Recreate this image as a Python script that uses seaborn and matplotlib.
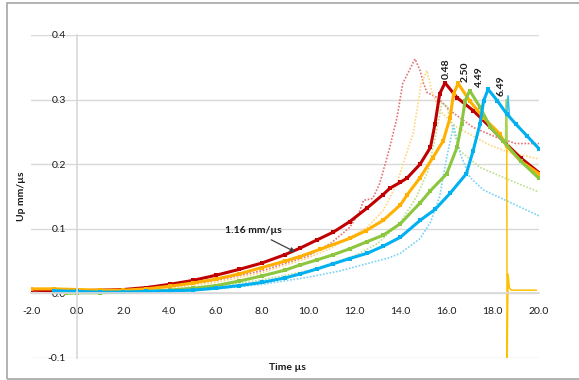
import numpy as np
import matplotlib
matplotlib.use('Agg')
import matplotlib.pyplot as plt
import seaborn as sns
from matplotlib.patches import Rectangle

# Particle velocity gauge traces (solid) and companion traces (dotted)
# labels are gauge depths in mm
red_t = [-2.0, -1.0, 0.0, 1.0, 2.0, 3.0, 4.0, 5.0, 6.0, 7.0, 8.0, 9.0, 9.65, 10.4, 11.1, 11.8,
         12.55, 13.25, 13.55, 14.0, 14.3, 14.85, 15.3, 15.5, 15.7, 15.93, 16.45, 17.15, 17.9,
         18.45, 19.2, 20.0]
red_v = [0.005, 0.004, 0.004, 0.005, 0.006, 0.009, 0.014, 0.02, 0.028, 0.037, 0.047, 0.06, 0.07,
         0.083, 0.095, 0.111, 0.132, 0.153, 0.163, 0.172, 0.179, 0.2, 0.226, 0.263, 0.309, 0.326,
         0.303, 0.283, 0.257, 0.236, 0.21, 0.187]

orange_t = [-2.0, -1.0, 0.0, 1.0, 2.0, 3.0, 4.0, 5.0, 6.0, 7.0, 8.0, 9.0, 9.65, 10.5, 11.8,
            12.5, 13.25, 14.0, 14.3, 14.85, 15.4, 15.85, 16.15, 16.3, 16.5, 17.0, 17.6, 18.3,
            18.6, 19.2, 20.0]
orange_v = [0.007, 0.007, 0.006, 0.005, 0.005, 0.007, 0.011, 0.016, 0.022, 0.03, 0.04, 0.05,
            0.057, 0.068, 0.085, 0.097, 0.113, 0.137, 0.153, 0.179, 0.21, 0.236, 0.272, 0.309,
            0.325, 0.298, 0.272, 0.247, 0.228, 0.205, 0.185]

green_t = [-0.5, 0.0, 1.0, 2.0, 3.0, 4.0, 4.3, 5.0, 6.0, 7.0, 8.0, 9.0, 9.65, 10.4, 11.1, 11.8,
           12.55, 13.25, 14.0, 14.85, 15.3, 16.0, 16.45, 16.65, 16.8, 17.0, 17.45, 17.9, 18.45,
           19.2, 20.0]
green_v = [0.0, 0.001, 0.001, 0.002, 0.003, 0.005, 0.006, 0.008, 0.012, 0.019, 0.027, 0.036,
           0.044, 0.052, 0.06, 0.069, 0.08, 0.09, 0.108, 0.14, 0.159, 0.185, 0.226, 0.263, 0.298,
           0.314, 0.288, 0.257, 0.236, 0.205, 0.178]

blue_t = [-1.0, 0.0, 1.0, 2.0, 3.0, 4.0, 5.0, 6.0, 7.0, 8.0, 9.0, 9.65, 10.4, 11.1, 11.8, 12.55,
          13.25, 14.0, 14.85, 15.5, 16.15, 16.85, 17.15, 17.45, 17.6, 17.8, 18.2, 18.6, 19.0,
          19.5, 20.0]
blue_v = [0.004, 0.003, 0.002, 0.002, 0.003, 0.004, 0.005, 0.008, 0.012, 0.017, 0.024, 0.03,
          0.038, 0.046, 0.054, 0.062, 0.073, 0.087, 0.113, 0.13, 0.155, 0.185, 0.221, 0.263, 0.298,
          0.316, 0.298, 0.278, 0.262, 0.243, 0.224]

red_dot_t = [-2.0, 0.0, 2.0, 4.0, 6.0, 8.0, 10.0, 11.0, 11.8, 12.2, 12.4, 12.8, 13.1, 13.5,
             13.85, 14.1, 14.63, 14.85, 15.0, 15.15, 15.6, 16.15, 17.15, 18.2, 19.0, 20.0]
red_dot_v = [0.004, 0.003, 0.004, 0.01, 0.02, 0.035, 0.058, 0.078, 0.102, 0.124, 0.144, 0.147,
             0.17, 0.221, 0.272, 0.325, 0.363, 0.345, 0.325, 0.311, 0.303, 0.283, 0.257, 0.241,
             0.232, 0.232]

orange_dot_t = [-2.0, 0.0, 2.0, 4.0, 6.0, 8.0, 10.0, 11.0, 11.8, 12.55, 13.25, 13.85, 14.3,
                14.55, 14.9, 15.15, 15.35, 15.7, 16.45, 17.9, 18.75, 20.0]
orange_dot_v = [0.005, 0.004, 0.004, 0.008, 0.017, 0.032, 0.055, 0.07, 0.087, 0.102, 0.128, 0.17,
                0.221, 0.247, 0.325, 0.345, 0.314, 0.283, 0.257, 0.229, 0.218, 0.208]

green_dot_t = [-0.5, 2.0, 4.0, 6.0, 8.0, 10.0, 12.0, 13.0, 14.0, 14.7, 15.2, 15.5, 15.8, 16.0,
               16.3, 16.6, 17.45, 18.75, 20.0]
green_dot_v = [0.001, 0.002, 0.005, 0.011, 0.021, 0.035, 0.058, 0.077, 0.11, 0.15, 0.19, 0.24,
               0.295, 0.29, 0.25, 0.22, 0.195, 0.175, 0.157]

blue_dot_t = [-1.0, 2.0, 4.0, 6.0, 8.0, 10.0, 11.4, 12.55, 13.5, 14.0, 14.85, 15.3, 15.7, 16.0,
              16.3, 16.6, 17.0, 17.6, 18.5, 20.0]
blue_dot_v = [0.002, 0.001, 0.003, 0.007, 0.014, 0.025, 0.035, 0.046, 0.055, 0.062, 0.085, 0.11,
              0.15, 0.21, 0.26, 0.215, 0.18, 0.16, 0.145, 0.12]

# thin spikes near 18.6 us, the orange one dropping out to zero afterwards
spike_orange_t = [18.55, 18.6, 18.62, 18.66, 18.72, 18.8, 19.9]
spike_orange_v = [0.228, 0.3, -0.1, 0.03, 0.008, 0.005, 0.005]
spike_green_t = [18.55, 18.58, 18.62]
spike_green_v = [0.232, 0.3, 0.228]
spike_blue_t = [18.6, 18.66, 18.72]
spike_blue_v = [0.278, 0.306, 0.275]

gauge_labels = ['0.48', '2.50', '4.49', '6.49']
x_ticks = [-2.0, 0.0, 2.0, 4.0, 6.0, 8.0, 10.0, 12.0, 14.0, 16.0, 18.0, 20.0]
y_ticks = [-0.1, 0.0, 0.1, 0.2, 0.3, 0.4]

sns.set_theme(style='white')
plt.rcParams['font.family'] = ['Lato', 'DejaVu Sans']

fig = plt.figure(figsize=(5.79, 3.80), dpi=100)
ax = fig.add_axes([0.0535, 0.0579, 0.8774, 0.85])

colors = ['#c00000', '#ffb000', '#8cc63f', '#00b0f0']
light = ['#e57373', '#ffd680', '#bde08f', '#7ad3f5']

dotted = [(red_dot_t, red_dot_v), (orange_dot_t, orange_dot_v),
          (green_dot_t, green_dot_v), (blue_dot_t, blue_dot_v)]
solid = [(red_t, red_v), (orange_t, orange_v), (green_t, green_v), (blue_t, blue_v)]
spikes = [(spike_orange_t, spike_orange_v, '#ffc000'), (spike_green_t, spike_green_v, '#9ed65a'),
          (spike_blue_t, spike_blue_v, '#33bff2')]

for (t, v), c in zip(dotted, light):
    sns.lineplot(x=t, y=v, ax=ax, color=c, lw=1.2, linestyle=(0, (1, 1)),
                 sort=False, estimator=None)

for t, v, c in spikes:
    sns.lineplot(x=t, y=v, ax=ax, color=c, lw=1.1, sort=False, estimator=None)

for (t, v), c in zip(solid, colors):
    sns.lineplot(x=t, y=v, ax=ax, color=c, lw=2.2, marker='s', markersize=2.4,
                 markeredgewidth=0, sort=False, estimator=None)

# gauge labels above each peak
label_pos = [(16.0, 0.332), (16.8, 0.327), (17.4, 0.319), (18.35, 0.306)]
for lab, (px, py) in zip(gauge_labels, label_pos):
    ax.text(px, py, lab, rotation=90, ha='center', va='bottom', fontsize=7.5,
            fontweight='bold', color='#1a1a1a')

ax.annotate('1.16 mm/µs', xy=(9.45, 0.064), xytext=(6.4, 0.097),
            fontsize=7.5, fontweight='bold', color='#1a1a1a', va='center', ha='left',
            arrowprops=dict(arrowstyle='-|>', color='#404040', lw=0.9,
                            shrinkA=2, shrinkB=0, mutation_scale=7))

ax.set_xlim(-2.0, 20.0)
ax.set_ylim(-0.1, 0.4)
ax.set_xticks(x_ticks)
ax.set_yticks(y_ticks)
ax.set_xticklabels([f'{x:.1f}' for x in x_ticks])
ax.set_yticklabels([f'{y:.1f}' for y in y_ticks])
ax.tick_params(axis='x', length=0, pad=10, labelsize=7.5, labelcolor='#1a1a1a')
ax.tick_params(axis='y', length=0, pad=8, labelsize=7.5, labelcolor='#1a1a1a')
for lab in ax.get_xticklabels() + ax.get_yticklabels():
    lab.set_fontweight('bold')

ax.grid(axis='y', color='#d9d9d9', lw=1)
ax.grid(axis='x', visible=False)
ax.spines['left'].set_position(('data', 0))
ax.spines['bottom'].set_position(('data', 0))
ax.spines['left'].set_color('#d9d9d9')
ax.spines['bottom'].set_color('#d9d9d9')
ax.spines['top'].set_visible(False)
ax.spines['right'].set_visible(False)
ax.set_xlabel('')
ax.set_ylabel('')

fig.text(287 / 579, 1 - 368 / 380, 'Time µs', ha='center', va='center', fontsize=7.5,
         fontweight='bold', color='#1a1a1a')
fig.text(22 / 579, 1 - 196 / 380, 'Up mm/µs', ha='center', va='center', rotation=90,
         fontsize=7.5, fontweight='bold', color='#1a1a1a')

fig.add_artist(Rectangle((7 / 579, 1.5 / 380), 1.2, 1 - 4.5 / 380, transform=fig.transFigure,
                         fill=False, edgecolor='#a6a6a6', lw=1.2))

fig.savefig('out.png', dpi=100)
